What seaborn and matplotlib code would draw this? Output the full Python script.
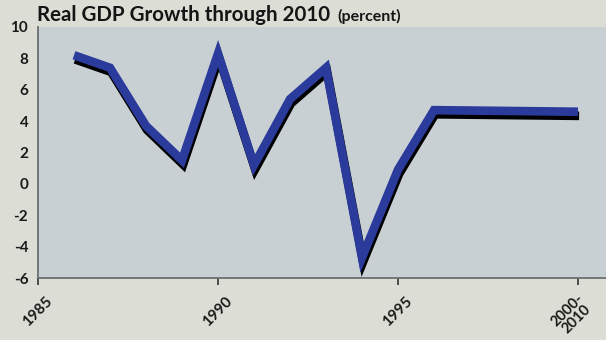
import matplotlib
matplotlib.use("Agg")
import matplotlib.pyplot as plt
import matplotlib.patheffects as pe
import matplotlib.transforms as mtransforms
import seaborn as sns
import pandas as pd

years = [1986, 1987, 1988, 1989, 1990, 1991, 1992, 1993, 1994, 1995, 1996, 2000]
growth = [8.2, 7.4, 3.7, 1.5, 8.3, 1.2, 5.4, 7.4, -4.7, 0.9, 4.7, 4.6]
xtick_pos = [1985, 1990, 1995, 2000]
xtick_labels = ["1985", "1990", "1995", "2000-\n2010"]
yticks = [-6, -4, -2, 0, 2, 4, 6, 8, 10]

sns.set_theme(style="white")
plt.rcParams['font.family'] = ['Lato', 'DejaVu Sans']

fig = plt.figure(figsize=(6.06, 3.40), dpi=100)
fig.patch.set_facecolor('#dcddd5')
ax = fig.add_axes([38/606, 1-278/340, 1-38/606, (278-27)/340])
ax.set_facecolor('#c9d0d4')

df = pd.DataFrame({'year': years, 'growth': growth})
sns.lineplot(data=df, x='year', y='growth', ax=ax, color='#2b3b9c', linewidth=6.2,
             solid_joinstyle='miter', solid_capstyle='butt',
             path_effects=[pe.SimpleLineShadow(offset=(0.8, -3.0), shadow_color='black', alpha=1.0),
                           pe.Normal()])

ax.set_xlim(1985, 1985 + (606-38)/36)
ax.set_ylim(-6, 10)
ax.set_yticks(yticks)
ax.set_yticklabels([str(v) for v in yticks], fontsize=11, fontweight='bold', color='#1a1a1a')
ax.set_xticks(xtick_pos)
ax.set_xticklabels(xtick_labels, fontsize=11, fontweight='bold', color='#1a1a1a',
                   rotation=45, ha='center', linespacing=0.85)
ax.tick_params(axis='x', direction='out', length=5, width=1.2, color='#333333', pad=7, bottom=True)
ax.tick_params(axis='y', length=0, pad=7)
last = ax.get_xticklabels()[-1]
last.set_fontsize(10.5)
last.set_transform(last.get_transform() + mtransforms.ScaledTranslation(-6/100, 3/100, fig.dpi_scale_trans))
ax.set_xlabel('')
ax.set_ylabel('')
for s in ['top', 'right']:
    ax.spines[s].set_visible(False)
for s in ['left', 'bottom']:
    ax.spines[s].set_color('#6b6f72')
    ax.spines[s].set_linewidth(1.3)

t1 = fig.text(37/606, 1-21/340, "Real GDP Growth through 2010", fontsize=14.8,
              fontweight='bold', color='#151515', va='baseline', ha='left')
fig.canvas.draw()
bb = t1.get_window_extent(renderer=fig.canvas.get_renderer())
x2 = (bb.x1 + 7) / fig.bbox.width
fig.text(x2, 1-21/340, "(percent)", fontsize=11.5, fontweight='bold', color='#151515',
         va='baseline', ha='left')

fig.savefig('out.png', dpi=100, facecolor=fig.get_facecolor())
